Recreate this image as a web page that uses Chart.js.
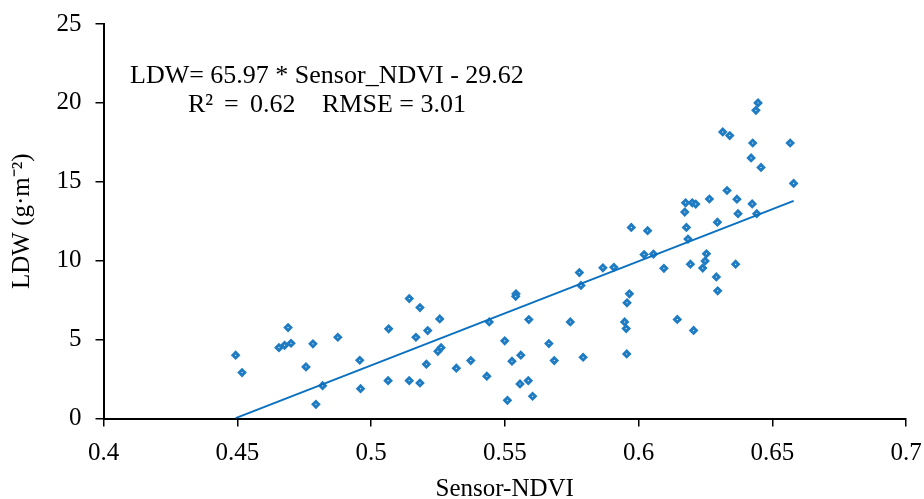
<!DOCTYPE html>
<html>
<head>
<meta charset="utf-8">
<script src="https://cdn.jsdelivr.net/npm/chart.js@4"></script>
<style>
    html, body { margin: 0; padding: 0; background: #fff; }
    #wrap { width: 924px; height: 499px; }
</style>
</head>
<body>
<div id="wrap"><canvas id="ldwChart" width="924" height="499"></canvas></div>
<script>
// Sensor-NDVI readings
const ndvi = [
    0.4494, 0.4518, 0.4656, 0.4677, 0.4701, 0.4690, 0.4757, 0.4783, 0.4819, 0.4794,
    0.4876, 0.4958, 0.4961, 0.5066, 0.5064, 0.5143, 0.5143, 0.5183, 0.5168, 0.5183,
    0.5212, 0.5207, 0.5257, 0.5250, 0.5262, 0.5319, 0.5373, 0.5433, 0.5442, 0.5500,
    0.5510, 0.5527, 0.5542, 0.5541, 0.5560, 0.5557, 0.5588, 0.5590, 0.5604, 0.5665,
    0.5685, 0.5745, 0.5785, 0.5779, 0.5793, 0.5867, 0.5908, 0.5966, 0.5957, 0.5948,
    0.5954, 0.5956, 0.5973, 0.6021, 0.6034, 0.6056, 0.6095, 0.6145, 0.6176, 0.6173,
    0.6179, 0.6185, 0.6194, 0.6201, 0.6214, 0.6206, 0.6240, 0.6249, 0.6254, 0.6265,
    0.6291, 0.6296, 0.6295, 0.6315, 0.6331, 0.6341, 0.6363, 0.6368, 0.6372, 0.6421,
    0.6427, 0.6425, 0.6439, 0.6447, 0.6442, 0.6458, 0.6567, 0.6580
];
// leaf dry weight, g/m2
const ldw = [
    4.01, 2.91, 4.49, 4.64, 4.77, 5.76, 3.27, 4.73, 2.08, 0.90,
    5.15, 3.69, 1.89, 5.68, 2.40, 7.60, 2.40, 7.03, 5.15, 2.25,
    5.57, 3.44, 6.31, 4.26, 4.49, 3.19, 3.67, 2.68, 6.12, 4.92,
    1.15, 3.63, 7.90, 7.74, 4.01, 2.19, 2.40, 6.27, 1.41, 4.75,
    3.67, 6.12, 8.43, 9.25, 3.88, 9.55, 9.58, 7.90, 7.33, 6.12,
    5.70, 4.09, 12.11, 10.39, 11.90, 10.42, 9.52, 6.28, 13.67, 13.08,
    12.11, 11.37, 9.78, 13.67, 13.59, 5.58, 9.53, 9.98, 10.44, 13.91,
    8.97, 8.09, 12.44, 18.16, 14.45, 17.93, 9.78, 13.90, 12.98, 16.51,
    17.46, 13.60, 19.53, 20.00, 12.98, 15.91, 17.46, 14.90
];

const fitSlope = 65.97;
const fitIntercept = -29.62;

const xTickLabels = ['0.4', '0.45', '0.5', '0.55', '0.6', '0.65', '0.7'];
const yTickLabels = ['0', '5', '10', '15', '20', '25'];

const eqText = 'LDW= 65.97 * Sensor_NDVI - 29.62';
const r2Parts = ['R\u00B2', '=', '0.62'];
const rmseText = 'RMSE = 3.01';

const serif = '"Liberation Serif", "Times New Roman", serif';

let points = ndvi.map((x, i) => ({ x: x, y: ldw[i] }));
let xLo = Math.min(...ndvi), xHi = Math.max(...ndvi);
let fitLine = [xLo, xHi].map(x => ({ x: x, y: fitSlope * x + fitIntercept }));

// equation text in the upper left
const equationText = {
    id: 'equationText',
    afterDraw(chart) {
        const c = chart.ctx;
        c.save();
        c.fillStyle = '#000';
        c.font = '26px ' + serif;
        c.textBaseline = 'alphabetic';
        c.textAlign = 'left';
        c.fillText(eqText, 130, 83);
        c.fillText(r2Parts[0], 188, 112);
        c.fillText(r2Parts[1], 224, 112);
        c.fillText(r2Parts[2], 250, 112);
        c.fillText(rmseText, 322, 112);
        c.restore();
    }
};

const ctx = document.getElementById('ldwChart').getContext('2d');
const ldwChart = new Chart(ctx, {
    type: 'scatter',
    data: {
        datasets: [{
            data: points,
            pointStyle: 'rectRot',
            pointRadius: 2.8,
            pointBorderWidth: 2.9,
            backgroundColor: '#ffffff',
            borderColor: '#1f7cc2',
            order: 2
        }, {
            type: 'line',
            data: fitLine,
            borderColor: '#0a70c0',
            borderWidth: 2,
            pointRadius: 0,
            fill: false,
            order: 1
        }]
    },
    options: {
        responsive: false, animation: false,
        layout: { padding: { top: 24, right: 18, left: 0, bottom: 0 } },
        plugins: { legend: { display: false }, tooltip: { enabled: false } },
        scales: {
            x: {
                type: 'linear', min: 0.4, max: 0.7,
                afterFit: s => { s.height = 80.5; s.paddingLeft = 0; s.paddingRight = 0; },
                afterBuildTicks: s => { s.ticks = xTickLabels.map(t => ({ value: parseFloat(t) })); },
                grid: { drawOnChartArea: false, drawTicks: true, tickLength: 8, color: '#000', lineWidth: 1.5 },
                border: { color: '#000', width: 2 },
                ticks: {
                    color: '#000', padding: 12, maxRotation: 0,
                    font: { family: serif, size: 25 },
                    callback: (v, i) => xTickLabels[i]
                },
                title: {
                    display: true, text: 'Sensor-NDVI', color: '#000',
                    font: { family: serif, size: 25, lineHeight: 1 }, padding: { top: 0, bottom: -3 }
                }
            },
            y: {
                type: 'linear', min: 0, max: 25,
                afterFit: s => { s.width = 103.5; s.paddingTop = 0; s.paddingBottom = 0; },
                afterBuildTicks: s => { s.ticks = yTickLabels.map(t => ({ value: parseFloat(t) })); },
                grid: { drawOnChartArea: false, drawTicks: true, tickLength: 8, color: '#000', lineWidth: 1.5 },
                border: { color: '#000', width: 2 },
                ticks: {
                    color: '#000', padding: 14,
                    font: { family: serif, size: 25 },
                    callback: (v, i) => yTickLabels[i]
                },
                title: {
                    display: true, text: 'LDW (g\u00B7m\u207B\u00B2)', color: '#000',
                    font: { family: serif, size: 25 }, padding: { top: 7, bottom: 0 }
                }
            }
        }
    },
    plugins: [equationText]
});
</script>
</body>
</html>
